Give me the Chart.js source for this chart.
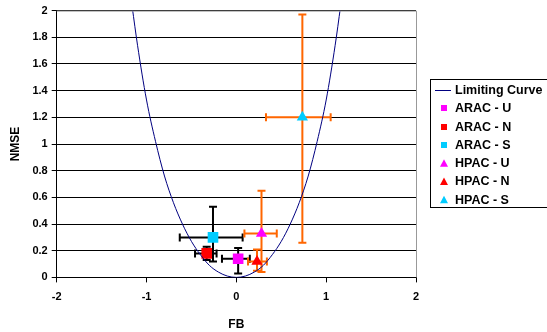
<!DOCTYPE html>
<html>
<head>
<meta charset="utf-8">
<script src="https://cdn.jsdelivr.net/npm/chart.js@4/dist/chart.umd.min.js"></script>
<style>
  html, body { margin: 0; padding: 0; background: #fff; }
  #wrap { width: 547px; height: 332px; }
</style>
</head>
<body>
<div id="wrap"><canvas id="c" width="547" height="332"></canvas></div>
<script>
// limiting curve
const curveFB   = [-1.16, -1.1, -1.0, -0.9, -0.8, -0.7, -0.6, -0.5, -0.4, -0.3, -0.2, -0.1, 0, 0.1, 0.2, 0.3, 0.4, 0.5, 0.6, 0.7, 0.8, 0.9, 1.0, 1.1, 1.16];
const curveNMSE = [2.03, 1.74, 1.33, 1.02, 0.76, 0.56, 0.40, 0.27, 0.17, 0.09, 0.04, 0.01, 0, 0.01, 0.04, 0.09, 0.17, 0.27, 0.40, 0.56, 0.76, 1.02, 1.33, 1.74, 2.03];

// model results: FB, NMSE and the error bar extents
const seriesNames = ["ARAC - U", "ARAC - N", "ARAC - S", "HPAC - U", "HPAC - N", "HPAC - S"];
const fbValues    = [0.02, -0.33, -0.26, 0.28, 0.23, 0.735];
const nmseValues  = [0.14, 0.18, 0.30, 0.33, 0.12, 1.20];
const fbLow       = [-0.16, -0.46, -0.63, 0.09, 0.13, 0.33];
const fbHigh      = [0.15, -0.22, 0.07, 0.45, 0.34, 1.05];
const nmseLow     = [0.03, 0.13, 0.12, 0.04, 0.05, 0.26];
const nmseHigh    = [0.22, 0.23, 0.53, 0.65, 0.21, 1.97];
const colors      = ["#FF00FF", "#FF0000", "#00CCFF", "#FF00FF", "#FF0000", "#00CCFF"];
const shapes      = ["rect", "rect", "rect", "triangle", "triangle", "triangle"];
const barColors   = ["#000000", "#000000", "#000000", "#FF6600", "#FF6600", "#FF6600"];

const FONT = "Arial, 'Liberation Sans', sans-serif";

const datasets = [{
  label: "Limiting Curve",
  type: "line",
  data: curveFB.map((x, i) => ({ x: x, y: curveNMSE[i] })),
  borderColor: "#000080",
  backgroundColor: "#000080",
  borderWidth: 1,
  pointRadius: 0,
  cubicInterpolationMode: "monotone",
  showLine: true,
  fill: false
}];
seriesNames.forEach((name, i) => {
  datasets.push({
    label: name,
    data: [{ x: fbValues[i], y: nmseValues[i] }],
    pointStyle: shapes[i],
    pointRadius: shapes[i] === "rect" ? 7.5 : 6.5,
    backgroundColor: colors[i],
    borderColor: colors[i],
    borderWidth: 0
  });
});

const extras = {
  id: "extras",
  beforeDatasetsDraw(chart) {
    const ctx = chart.ctx, xs = chart.scales.x, ys = chart.scales.y;
    const cap = 4;
    ctx.save();
    ctx.lineWidth = 2;
    for (let i = 0; i < seriesNames.length; i++) {
      const cx = xs.getPixelForValue(fbValues[i]);
      const cy = ys.getPixelForValue(nmseValues[i]);
      const x0 = xs.getPixelForValue(fbLow[i]), x1 = xs.getPixelForValue(fbHigh[i]);
      const y0 = ys.getPixelForValue(nmseLow[i]), y1 = ys.getPixelForValue(nmseHigh[i]);
      ctx.strokeStyle = barColors[i];
      ctx.beginPath();
      ctx.moveTo(x0, cy); ctx.lineTo(x1, cy);
      ctx.moveTo(x0, cy - cap); ctx.lineTo(x0, cy + cap);
      ctx.moveTo(x1, cy - cap); ctx.lineTo(x1, cy + cap);
      ctx.moveTo(cx, y0); ctx.lineTo(cx, y1);
      ctx.moveTo(cx - cap, y0); ctx.lineTo(cx + cap, y0);
      ctx.moveTo(cx - cap, y1); ctx.lineTo(cx + cap, y1);
      ctx.stroke();
    }
    ctx.restore();
  },
  afterDraw(chart) {
    const ctx = chart.ctx, a = chart.chartArea;
    ctx.save();
    // gray frame on top and right of plot
    ctx.strokeStyle = "#999";
    ctx.lineWidth = 1;
    ctx.beginPath();
    ctx.moveTo(a.left, a.top + 0.5); ctx.lineTo(a.right + 0.5, a.top + 0.5); ctx.lineTo(a.right + 0.5, a.bottom);
    ctx.stroke();

    // legend box
    const bx = 430, by = 79, rowH = 18.3;
    ctx.strokeStyle = "#000";
    ctx.strokeRect(bx + 0.5, by + 0.5, 120, 128);
    ctx.font = "bold 12.5px " + FONT;
    ctx.fillStyle = "#000";
    ctx.textBaseline = "middle";
    let y = by + 11;
    ctx.strokeStyle = "#000080";
    ctx.beginPath();
    ctx.moveTo(435, Math.round(y) + 0.5); ctx.lineTo(451, Math.round(y) + 0.5);
    ctx.stroke();
    ctx.fillText("Limiting Curve", 455, y + 0.5);
    seriesNames.forEach((name, i) => {
      y += rowH;
      ctx.fillStyle = colors[i];
      if (shapes[i] === "rect") {
        ctx.fillRect(441, Math.round(y) - 3, 6, 6);
      } else {
        ctx.beginPath();
        ctx.moveTo(444, y - 4); ctx.lineTo(448, y + 3.5); ctx.lineTo(440, y + 3.5);
        ctx.closePath(); ctx.fill();
      }
      ctx.fillStyle = "#000";
      ctx.fillText(name, 455, y + 0.5);
    });
    ctx.restore();
  }
};

new Chart(document.getElementById("c"), {
  type: "scatter",
  data: { datasets: datasets },
  plugins: [extras],
  options: {
    responsive: false,
    animation: false,
    layout: { padding: { top: 5, right: 131, left: 4, bottom: 0 } },
    plugins: {
      tooltip: { enabled: false },
      legend: { display: false }
    },
    scales: {
      x: {
        type: "linear",
        min: -2, max: 2,
        ticks: { stepSize: 1, color: "#000", font: { family: FONT, size: 11, weight: "bold" }, padding: 8 },
        grid: { drawOnChartArea: false, drawTicks: true, tickLength: 5, color: "#000" },
        border: { color: "#000", width: 1 },
        title: { display: true, text: "FB", color: "#000", font: { family: FONT, size: 12, weight: "bold" }, padding: { top: 6, bottom: 0 } }
      },
      y: {
        min: 0, max: 2,
        ticks: { stepSize: 0.2, color: "#000", font: { family: FONT, size: 11, weight: "bold" }, padding: 4,
                 callback: v => Math.round(v * 10) / 10 },
        grid: { color: "#000", drawTicks: true, tickLength: 5 },
        border: { color: "#000", width: 1 },
        title: { display: true, text: "NMSE", color: "#000", font: { family: FONT, size: 12, weight: "bold" }, padding: { bottom: 6 } }
      }
    }
  }
});
</script>
</body>
</html>
